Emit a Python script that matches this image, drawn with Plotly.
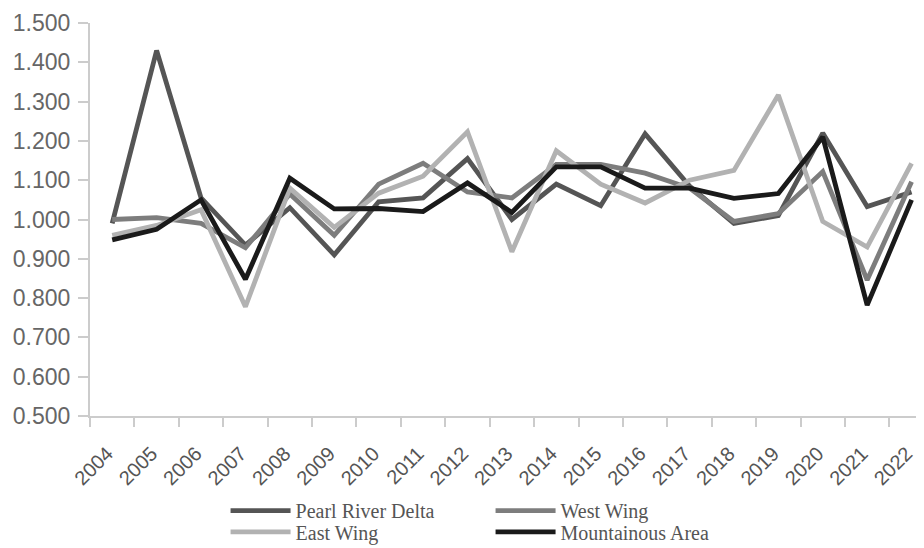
import plotly.graph_objects as go

years = [str(y) for y in range(2004, 2023)]
pearl_river_delta = [0.990, 1.430, 1.055, 0.935, 1.030, 0.910, 1.045, 1.055, 1.155, 1.000, 1.090, 1.035, 1.218, 1.085, 0.990, 1.010, 1.220, 1.033, 1.070]
west_wing = [1.000, 1.005, 0.990, 0.928, 1.065, 0.960, 1.090, 1.143, 1.070, 1.055, 1.140, 1.140, 1.118, 1.080, 0.995, 1.015, 1.122, 0.846, 1.096]
east_wing = [0.960, 0.985, 1.025, 0.778, 1.080, 0.980, 1.067, 1.110, 1.223, 0.918, 1.175, 1.090, 1.042, 1.100, 1.125, 1.317, 0.995, 0.930, 1.143]
mountainous_area = [0.948, 0.975, 1.050, 0.848, 1.105, 1.027, 1.028, 1.020, 1.093, 1.018, 1.134, 1.134, 1.080, 1.080, 1.054, 1.066, 1.210, 0.782, 1.050]
y_ticks = [0.5, 0.6, 0.7, 0.8, 0.9, 1.0, 1.1, 1.2, 1.3, 1.4, 1.5]

series = [
    ("Pearl River Delta", pearl_river_delta, "#555555", "legend"),
    ("West Wing", west_wing, "#7d7d7d", "legend"),
    ("East Wing", east_wing, "#b2b2b2", "legend2"),
    ("Mountainous Area", mountainous_area, "#1a1a1a", "legend2"),
]

fig = go.Figure()
for name, vals, col, lg in series:
    fig.add_trace(go.Scatter(x=years, y=vals, name=name, mode="lines", legend=lg,
                             line=dict(color=col, width=4.8)))

legend_common = dict(orientation="h", xanchor="left", yanchor="top",
                     entrywidth=190, entrywidthmode="pixels", itemwidth=60,
                     font=dict(family="Liberation Serif, Times New Roman, serif", size=20, color="#555555"),
                     bgcolor="rgba(0,0,0,0)")

fig.update_layout(
    width=924, height=548,
    margin=dict(l=82, r=0, t=15, b=140, autoexpand=False),
    paper_bgcolor="white", plot_bgcolor="white",
    showlegend=True,
    legend=dict(x=0.161, y=-0.191, **legend_common),
    legend2=dict(x=0.161, y=-0.245, **legend_common),
    xaxis=dict(type="category", range=[-0.5, 18.46], showgrid=False, automargin=False,
               showline=True, linecolor="#cccccc", linewidth=2,
               ticks="outside", tickson="boundaries", ticklen=9, tickcolor="#cccccc", tickwidth=2,
               tickangle=-45, ticklabelstandoff=16, ticklabelshift=-5,
               tickfont=dict(family="Liberation Sans, Arial, sans-serif", size=20, color="#555555")),
    yaxis=dict(range=[0.5, 1.5], tickvals=y_ticks, ticktext=[f"{v:.3f}" for v in y_ticks],
               showgrid=False, zeroline=False, automargin=False,
               showline=True, linecolor="#cccccc", linewidth=2,
               ticks="outside", ticklen=10, tickcolor="#cccccc", tickwidth=2,
               ticklabelstandoff=3,
               tickfont=dict(family="Liberation Sans, Arial, sans-serif", size=23, color="#666666")),
)

fig.write_html("out.html")
